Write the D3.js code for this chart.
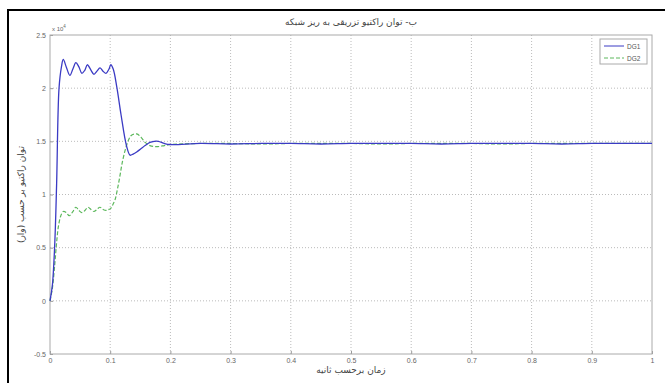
<!DOCTYPE html>
<html>
<head>
<meta charset="utf-8">
<script src="https://cdn.jsdelivr.net/npm/d3@7"></script>
<style>
  body { margin: 0; background: #fff; }
  text { font-family: "DejaVu Sans", sans-serif; }
</style>
</head>
<body>
<script>
// values in units of 10^4
const timeDG1 = [0, 0.004, 0.008, 0.011, 0.015, 0.019, 0.022, 0.027, 0.033, 0.038, 0.043, 0.048, 0.053, 0.058, 0.062, 0.068, 0.073, 0.078, 0.083, 0.088, 0.093, 0.098, 0.101, 0.105, 0.111, 0.118, 0.127, 0.133, 0.138, 0.144, 0.151, 0.158, 0.166, 0.173, 0.18, 0.19, 0.2, 0.25, 0.3, 0.35, 0.4, 0.45, 0.5, 0.55, 0.6, 0.65, 0.7, 0.75, 0.8, 0.85, 0.9, 0.95, 1.0];
const valDG1 = [0, 0.15, 0.55, 1.1, 2.0, 2.2, 2.27, 2.2, 2.12, 2.18, 2.24, 2.2, 2.14, 2.17, 2.22, 2.17, 2.13, 2.16, 2.19, 2.16, 2.14, 2.18, 2.22, 2.18, 2.01, 1.75, 1.46, 1.37, 1.38, 1.40, 1.43, 1.46, 1.49, 1.50, 1.50, 1.48, 1.47, 1.48, 1.475, 1.48, 1.48, 1.475, 1.48, 1.48, 1.48, 1.475, 1.48, 1.48, 1.48, 1.475, 1.48, 1.48, 1.48];
const timeDG2 = [0, 0.004, 0.008, 0.011, 0.014, 0.018, 0.022, 0.027, 0.032, 0.038, 0.043, 0.048, 0.053, 0.058, 0.063, 0.068, 0.073, 0.078, 0.083, 0.088, 0.093, 0.098, 0.101, 0.104, 0.108, 0.112, 0.116, 0.12, 0.125, 0.131, 0.136, 0.144, 0.151, 0.158, 0.166, 0.177, 0.19, 0.2, 0.25, 0.3, 0.35, 0.4, 0.45, 0.5, 0.55, 0.6, 0.65, 0.7, 0.75, 0.8, 0.85, 0.9, 0.95, 1.0];
const valDG2 = [0, 0.12, 0.35, 0.55, 0.7, 0.8, 0.84, 0.83, 0.80, 0.84, 0.88, 0.85, 0.83, 0.85, 0.88, 0.86, 0.84, 0.86, 0.88, 0.86, 0.85, 0.86, 0.87, 0.9, 0.95, 1.05, 1.17, 1.3, 1.42, 1.52, 1.56, 1.57, 1.54, 1.49, 1.46, 1.45, 1.46, 1.47, 1.48, 1.48, 1.475, 1.48, 1.48, 1.48, 1.475, 1.48, 1.48, 1.48, 1.475, 1.48, 1.48, 1.48, 1.48, 1.48];
const xTicks = [0, 0.1, 0.2, 0.3, 0.4, 0.5, 0.6, 0.7, 0.8, 0.9, 1];
const yTicks = [-0.5, 0, 0.5, 1, 1.5, 2, 2.5];
const seriesNames = ["DG1", "DG2"];

const title = "ب- توان راکتیو تزریقی به ریز شبکه";
const xLabel = "زمان برحسب ثانیه";
const yLabel = "توان راکتیو بر حسب (وار)";

const W = 665, H = 383;
const plot = { left: 50, right: 652, top: 35, bottom: 354 };

const svg = d3.select("body").append("svg")
  .attr("width", W).attr("height", H);

// outer black frame (left and top visible)
svg.append("rect")
  .attr("x", 8).attr("y", 10)
  .attr("width", W).attr("height", H)
  .attr("fill", "none").attr("stroke", "#000").attr("stroke-width", 2);

const x = d3.scaleLinear().domain([0, 1]).range([plot.left, plot.right]);
const y = d3.scaleLinear().domain([-0.5, 2.5]).range([plot.bottom, plot.top]);

// grid
svg.append("g").selectAll("line").data(xTicks.slice(1, -1)).enter().append("line")
  .attr("x1", d => x(d)).attr("x2", d => x(d))
  .attr("y1", plot.top).attr("y2", plot.bottom)
  .attr("stroke", "#aaa").attr("stroke-width", 0.8).attr("stroke-dasharray", "1,2");
svg.append("g").selectAll("line").data(yTicks.slice(1, -1)).enter().append("line")
  .attr("x1", plot.left).attr("x2", plot.right)
  .attr("y1", d => y(d)).attr("y2", d => y(d))
  .attr("stroke", "#aaa").attr("stroke-width", 0.8).attr("stroke-dasharray", "1,2");

// axes
const xAxis = svg.append("g")
  .attr("transform", `translate(0,${plot.bottom})`)
  .call(d3.axisBottom(x).tickValues(xTicks).tickSize(-3).tickPadding(4).tickFormat(d => d));
const yAxis = svg.append("g")
  .attr("transform", `translate(${plot.left},0)`)
  .call(d3.axisLeft(y).tickValues(yTicks).tickSize(-3).tickPadding(4).tickFormat(d => d));
[xAxis, yAxis].forEach(a => {
  a.select(".domain").remove();
  a.selectAll("line").attr("stroke", "#999");
  a.selectAll("text").attr("fill", "#666").style("font-size", "7px")
    .style("font-family", "Liberation Sans, Arial, sans-serif");
});

// box
svg.append("rect")
  .attr("x", plot.left).attr("y", plot.top)
  .attr("width", plot.right - plot.left).attr("height", plot.bottom - plot.top)
  .attr("fill", "none").attr("stroke", "#aaa").attr("stroke-width", 1);

// multiplier
const mult = svg.append("text").attr("x", plot.left + 2).attr("y", plot.top - 4)
  .attr("fill", "#666").style("font-size", "6px")
  .style("font-family", "Liberation Sans, Arial, sans-serif");
mult.append("tspan").text("x 10");
mult.append("tspan").attr("dy", -3).style("font-size", "4.5px").text("4");

// lines
const line = d3.line().x(d => x(d[0])).y(d => y(d[1])).curve(d3.curveCatmullRom.alpha(0.5));
const dg1 = timeDG1.map((t, i) => [t, valDG1[i]]);
const dg2 = timeDG2.map((t, i) => [t, valDG2[i]]);

svg.append("path").datum(dg2).attr("d", line)
  .attr("fill", "none").attr("stroke", "#5cb85c").attr("stroke-width", 1.2)
  .attr("stroke-dasharray", "4,2");
svg.append("path").datum(dg1).attr("d", line)
  .attr("fill", "none").attr("stroke", "#3b3bc4").attr("stroke-width", 1.3);

// legend
const lg = svg.append("g");
lg.append("rect").attr("x", 600).attr("y", 39).attr("width", 47).attr("height", 25)
  .attr("fill", "#fff").attr("stroke", "#aaa").attr("stroke-width", 1);
const legendColors = ["#3b3bc4", "#5cb85c"];
const legendDash = [null, "4,2"];
seriesNames.forEach((n, i) => {
  const yy = 46 + i * 12;
  lg.append("line").attr("x1", 604).attr("x2", 624).attr("y1", yy).attr("y2", yy)
    .attr("stroke", legendColors[i]).attr("stroke-width", 1)
    .attr("stroke-dasharray", legendDash[i]);
  lg.append("text").attr("x", 627).attr("y", yy + 2.5).text(n)
    .attr("fill", "#555").style("font-size", "6.5px")
    .style("font-family", "Liberation Sans, Arial, sans-serif");
});

// title and labels
svg.append("text").attr("x", (plot.left + plot.right) / 2).attr("y", 25)
  .attr("text-anchor", "middle").attr("fill", "#444").style("font-size", "9px")
  .style("direction", "rtl").text(title);
svg.append("text").attr("x", (plot.left + plot.right) / 2).attr("y", 373)
  .attr("text-anchor", "middle").attr("fill", "#444").style("font-size", "9px")
  .style("direction", "rtl").text(xLabel);
svg.append("text")
  .attr("transform", `translate(24,${(plot.top + plot.bottom) / 2}) rotate(-90)`)
  .attr("text-anchor", "middle").attr("fill", "#444").style("font-size", "9px")
  .style("direction", "rtl").text(yLabel);
</script>
</body>
</html>
